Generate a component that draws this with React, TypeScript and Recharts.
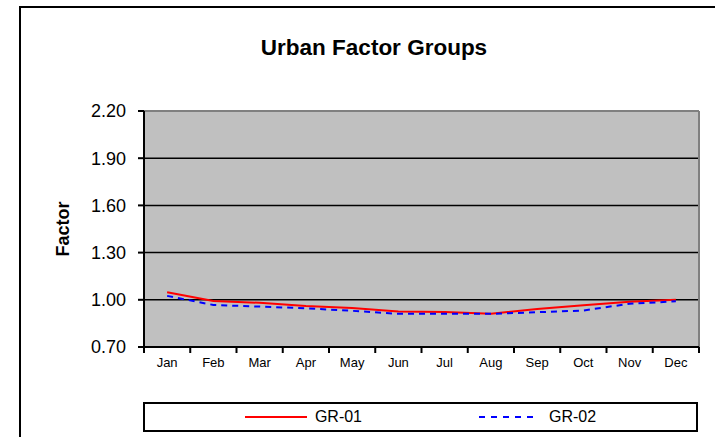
import { LineChart, Line, XAxis, YAxis, CartesianGrid, Legend } from "recharts";

const months = ["Jan", "Feb", "Mar", "Apr", "May", "Jun", "Jul", "Aug", "Sep", "Oct", "Nov", "Dec"];
const gr01 = [1.048, 0.992, 0.981, 0.961, 0.948, 0.925, 0.923, 0.911, 0.942, 0.965, 0.988, 1.0];
const gr02 = [1.025, 0.967, 0.957, 0.946, 0.93, 0.911, 0.911, 0.911, 0.921, 0.932, 0.975, 0.99];
const yTicks = [0.7, 1.0, 1.3, 1.6, 1.9, 2.2];

const data = months.map((m, i) => ({ month: m, "GR-01": gr01[i], "GR-02": gr02[i] }));

const FONT = "'Liberation Sans', Arial, sans-serif";
const W = 715;
const H = 437;
// bottom = 437 - 347 - x axis height (30) - legend height (30)
const margin = { top: 111, right: 16, bottom: 30, left: 0 };
const yAxisWidth = 144;
const plotW = W - margin.left - margin.right - yAxisWidth;
const half = plotW / months.length / 2;

const TICK = 6;
const TICK_MARGIN = 5;

function MonthTick(props: any) {
  const { x, y, payload, index } = props;
  const axisY = y - TICK - TICK_MARGIN;
  return (
    <g>
      <line x1={x - half} x2={x - half} y1={axisY} y2={axisY + TICK} stroke="#000" strokeWidth={2} />
      {index === months.length - 1 && (
        <line x1={x + half} x2={x + half} y1={axisY} y2={axisY + TICK} stroke="#000" strokeWidth={2} />
      )}
      <text x={x} y={y} dy="0.71em" textAnchor="middle" fontSize={13} fontFamily={FONT} fill="#000">
        {payload.value}
      </text>
    </g>
  );
}

function LegendBox() {
  return (
    <div
      style={{
        boxSizing: "border-box",
        width: "100%",
        height: "100%",
        border: "2px solid #000",
        background: "#fff",
        display: "flex",
        alignItems: "center",
        justifyContent: "center",
        gap: 117,
        fontFamily: FONT,
        fontSize: 16,
        color: "#000",
      }}
    >
      <div style={{ display: "flex", alignItems: "center", gap: 8 }}>
        <svg width={62} height={4}>
          <line x1={0} x2={62} y1={2} y2={2} stroke="#ff0000" strokeWidth={2} />
        </svg>
        <span>GR-01</span>
      </div>
      <div style={{ display: "flex", alignItems: "center", gap: 10 }}>
        <svg width={60} height={4}>
          <line x1={0} x2={60} y1={2} y2={2} stroke="#0000ff" strokeWidth={2} strokeDasharray="6 6" />
        </svg>
        <span>GR-02</span>
      </div>
    </div>
  );
}

export default function App() {
  return (
    <div style={{ position: "absolute", left: 0, top: 0, width: W, height: H, overflow: "hidden", background: "#fff" }}>
      <div
        style={{
          position: "absolute",
          left: 19,
          top: 6,
          width: 760,
          height: 500,
          border: "2px solid #000",
          boxSizing: "border-box",
        }}
      />
      <div
        style={{
          position: "absolute",
          left: 19,
          width: 710,
          top: 35,
          textAlign: "center",
          fontFamily: FONT,
          fontWeight: "bold",
          fontSize: 22.5,
          color: "#000",
        }}
      >
        Urban Factor Groups
      </div>
      <div style={{ position: "absolute", left: 0, top: 0 }}>
        <LineChart width={W} height={H} data={data} margin={margin}>
          <CartesianGrid
            vertical={false}
            fill="#c0c0c0"
            stroke="#000"
            strokeWidth={1.5}
          />
          <CartesianGrid
            fill="none"
            stroke="#808080"
            strokeWidth={2}
            horizontalCoordinatesGenerator={({ offset }: any) => [offset.top]}
            verticalCoordinatesGenerator={({ offset }: any) => [offset.left + offset.width]}
          />
          <XAxis
            dataKey="month"
            height={30}
            padding={{ left: half, right: half }}
            axisLine={{ stroke: "#000", strokeWidth: 2 }}
            tickLine={false}
            tickSize={TICK}
            tickMargin={TICK_MARGIN}
            interval={0}
            tick={<MonthTick />}
          />
          <YAxis
            width={yAxisWidth}
            domain={[0.7, 2.2]}
            ticks={yTicks}
            interval={0}
            tickFormatter={(v: number) => v.toFixed(2)}
            axisLine={{ stroke: "#000", strokeWidth: 2 }}
            tickLine={{ stroke: "#000", strokeWidth: 2 }}
            tickSize={6}
            tickMargin={12}
            tick={{ fontSize: 18, fontFamily: FONT, fill: "#000" }}
            label={{
              value: "Factor",
              angle: -90,
              position: "insideLeft",
              offset: 63,
              style: { fontSize: 18, fontWeight: "bold", fontFamily: FONT, fill: "#000", textAnchor: "middle" },
            }}
          />
          <Line
            type="linear"
            dataKey="GR-01"
            stroke="#ff0000"
            strokeWidth={2}
            dot={false}
            isAnimationActive={false}
          />
          <Line
            type="linear"
            dataKey="GR-02"
            stroke="#0000ff"
            strokeWidth={2}
            strokeDasharray="6 5"
            dot={false}
            isAnimationActive={false}
          />
          <Legend
            content={<LegendBox />}
            wrapperStyle={{ position: "absolute", left: 143, top: 402, width: 555, height: 30, bottom: "auto" }}
          />
        </LineChart>
      </div>
    </div>
  );
}
